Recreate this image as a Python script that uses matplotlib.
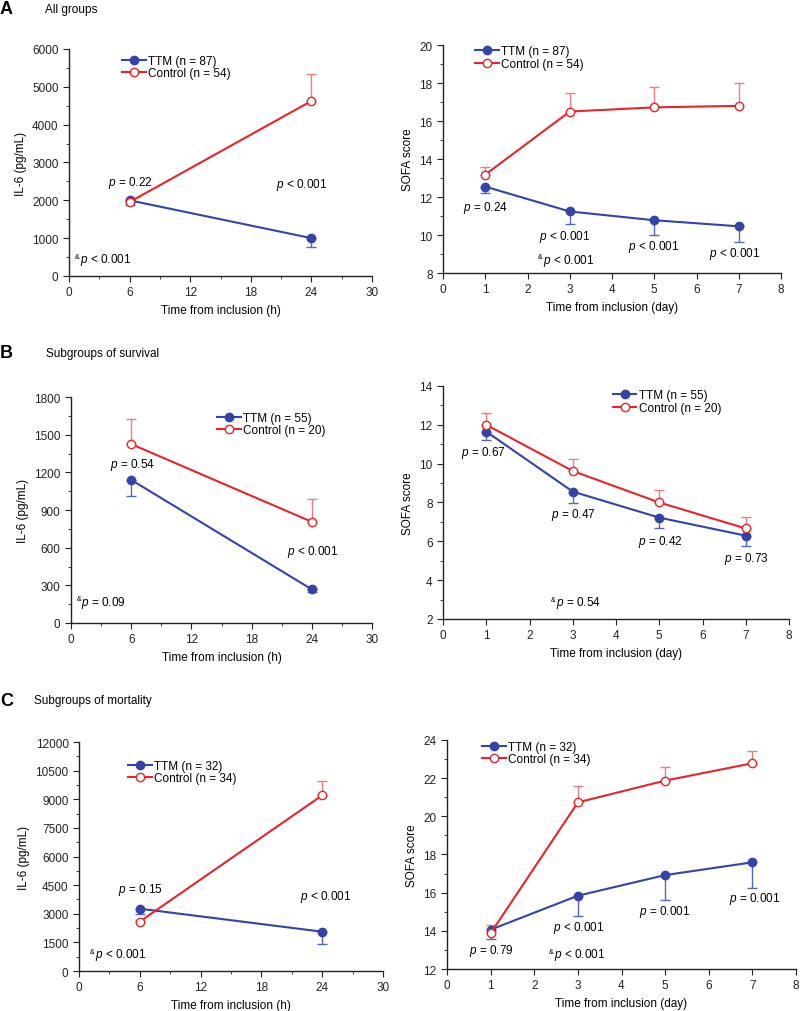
import matplotlib
matplotlib.use("Agg")
import matplotlib.pyplot as plt
from matplotlib.ticker import MultipleLocator

plt.rcParams['font.family'] = ['Liberation Sans', 'DejaVu Sans']
plt.rcParams['mathtext.fontset'] = 'custom'
plt.rcParams['mathtext.rm'] = 'Liberation Sans'
plt.rcParams['mathtext.it'] = 'Liberation Sans:italic'

# ---------------- data ----------------
hours = [6, 24]
days = [1, 3, 5, 7]

# Panel A - all groups
a_il6_ttm = [2000, 1000]
a_il6_ttm_err = [120, 245]
a_il6_ctrl = [1955, 4625]
a_il6_ctrl_err = [60, 715]
a_sofa_ttm = [12.55, 11.24, 10.78, 10.46]
a_sofa_ttm_err = [0.35, 0.67, 0.78, 0.85]
a_sofa_ctrl = [13.18, 16.5, 16.72, 16.8]
a_sofa_ctrl_err = [0.38, 0.95, 1.05, 1.18]

# Panel B - survival subgroups
b_il6_ttm = [1140, 268]
b_il6_ttm_err = [132, 20]
b_il6_ctrl = [1425, 806]
b_il6_ctrl_err = [202, 178]
b_sofa_ttm = [11.65, 8.56, 7.22, 6.29]
b_sofa_ttm_err = [0.43, 0.58, 0.55, 0.52]
b_sofa_ctrl = [12.0, 9.62, 8.0, 6.66]
b_sofa_ctrl_err = [0.59, 0.64, 0.64, 0.61]

# Panel C - mortality subgroups
c_il6_ttm = [3266, 2060]
c_il6_ttm_err = [300, 630]
c_il6_ctrl = [2590, 9205]
c_il6_ctrl_err = [60, 750]
c_sofa_ttm = [14.06, 15.84, 16.92, 17.59]
c_sofa_ttm_err = [0.5, 1.08, 1.29, 1.36]
c_sofa_ctrl = [13.87, 20.73, 21.87, 22.78]
c_sofa_ctrl_err = [0.45, 0.84, 0.7, 0.63]

n_labels = {
    'A': ("TTM (n = 87)", "Control (n = 54)"),
    'B': ("TTM (n = 55)", "Control (n = 20)"),
    'C': ("TTM (n = 32)", "Control (n = 34)"),
}
titles = {'A': "All groups", 'B': "Subgroups of survival", 'C': "Subgroups of mortality"}

BLUE = '#3343a8'
BLUE_ERR = '#5566bb'
RED = '#e5252b'
RED_ERR = '#ec7c82'

FS = 8.5

fig = plt.figure(figsize=(8, 10.12), dpi=100)


def draw(ax, x, ttm, ttm_err, ctrl, ctrl_err, labels):
    zeros = [0] * len(x)
    ax.errorbar(x, ttm, yerr=[ttm_err, zeros], fmt='none', ecolor=BLUE_ERR,
                elinewidth=1.0, capsize=3.5, capthick=1.0, zorder=2)
    ax.errorbar(x, ctrl, yerr=[zeros, ctrl_err], fmt='none', ecolor=RED_ERR,
                elinewidth=1.0, capsize=3.5, capthick=1.0, zorder=2)
    ax.plot(x, ttm, '-o', color=BLUE, lw=1.5, ms=6, mfc=BLUE, mec=BLUE, zorder=4,
            label=labels[0])
    ax.plot(x, ctrl, '-o', color=RED, lw=1.5, ms=6, mfc='white', mec=RED, mew=1.0,
            zorder=5, label=labels[1])


def style(ax, xlim, xmaj, xmin, ylim, ymaj, ymin, xlabel, ylabel):
    ax.set_xlim(*xlim)
    ax.set_ylim(*ylim)
    ax.xaxis.set_major_locator(MultipleLocator(xmaj))
    if xmin:
        ax.xaxis.set_minor_locator(MultipleLocator(xmin))
    ax.yaxis.set_major_locator(MultipleLocator(ymaj))
    ax.yaxis.set_minor_locator(MultipleLocator(ymin))
    for s in ('top', 'right'):
        ax.spines[s].set_visible(False)
    for s in ('left', 'bottom'):
        ax.spines[s].set_linewidth(1.0)
        ax.spines[s].set_color('#222222')
    ax.tick_params(which='major', length=4, width=0.8, labelsize=FS, colors='#222222')
    ax.tick_params(which='minor', length=2, width=0.6, colors='#222222')
    ax.set_xlabel(xlabel, fontsize=FS)
    ax.set_ylabel(ylabel, fontsize=FS)


def legend(ax, x, y):
    ax.legend(loc='upper left', bbox_to_anchor=(x, y), frameon=False, fontsize=FS,
              handlelength=2.0, handletextpad=0.2, labelspacing=0.05,
              borderpad=0, borderaxespad=0)


def ptext(ax, x, y, s):
    ax.text(x, y, s, fontsize=FS, ha='left', va='center')


def amp_text(ax, x, y, s):
    ax.annotate('&', (x, y), xytext=(0, 2), textcoords='offset points',
                fontsize=5, ha='left', va='center')
    ax.annotate(s, (x, y), xytext=(3.5, 0), textcoords='offset points',
                fontsize=FS, ha='left', va='center')


IL6_X = "Time from inclusion (h)"
SOFA_X = "Time from inclusion (day)"
IL6_Y = "IL-6 (pg/mL)"
SOFA_Y = "SOFA score"

# ---------- A ----------
ax = fig.add_axes([0.08625, 0.7263, 0.37875, 0.2243])
draw(ax, hours, a_il6_ttm, a_il6_ttm_err, a_il6_ctrl, a_il6_ctrl_err, n_labels['A'])
style(ax, (0, 30), 6, 3, (0, 6000), 1000, 500, IL6_X, IL6_Y)
legend(ax, 0.175, 0.975)
ptext(ax, 3.9, 2485, r"$p$ = 0.22")
ptext(ax, 20.5, 2430, r"$p$ < 0.001")
amp_text(ax, 0.6, 450, r"$p$ < 0.001")

ax = fig.add_axes([0.55375, 0.7292, 0.4225, 0.2253])
draw(ax, days, a_sofa_ttm, a_sofa_ttm_err, a_sofa_ctrl, a_sofa_ctrl_err, n_labels['A'])
style(ax, (0, 8), 1, None, (8, 20), 2, 1, SOFA_X, SOFA_Y)
legend(ax, 0.095, 1.0)
ptext(ax, 0.47, 11.45, r"$p$ = 0.24")
ptext(ax, 2.27, 9.93, r"$p$ < 0.001")
amp_text(ax, 2.25, 8.7, r"$p$ < 0.001")
ptext(ax, 4.37, 9.4, r"$p$ < 0.001")
ptext(ax, 6.3, 9.05, r"$p$ < 0.001")

# ---------- B ----------
ax = fig.add_axes([0.08875, 0.3834, 0.37625, 0.2233])
draw(ax, hours, b_il6_ttm, b_il6_ttm_err, b_il6_ctrl, b_il6_ctrl_err, n_labels['B'])
style(ax, (0, 30), 6, 3, (0, 1800), 300, 150, IL6_X, IL6_Y)
legend(ax, 0.485, 0.935)
ptext(ax, 3.85, 1270, r"$p$ = 0.54")
ptext(ax, 21.5, 570, r"$p$ < 0.001")
amp_text(ax, 0.53, 170, r"$p$ = 0.09")

ax = fig.add_axes([0.55375, 0.3874, 0.4325, 0.2302])
draw(ax, days, b_sofa_ttm, b_sofa_ttm_err, b_sofa_ctrl, b_sofa_ctrl_err, n_labels['B'])
style(ax, (0, 8), 1, None, (2, 14), 2, 1, SOFA_X, SOFA_Y)
legend(ax, 0.491, 0.985)
ptext(ax, 0.41, 10.6, r"$p$ = 0.67")
ptext(ax, 2.49, 7.4, r"$p$ = 0.47")
ptext(ax, 4.5, 6.0, r"$p$ = 0.42")
ptext(ax, 6.5, 5.14, r"$p$ = 0.73")
amp_text(ax, 2.49, 2.85, r"$p$ = 0.54")

# ---------- C ----------
ax = fig.add_axes([0.09875, 0.0395, 0.38, 0.2263])
draw(ax, hours, c_il6_ttm, c_il6_ttm_err, c_il6_ctrl, c_il6_ctrl_err, n_labels['C'])
style(ax, (0, 30), 6, 3, (0, 12000), 1500, 750, IL6_X, IL6_Y)
legend(ax, 0.161, 0.922)
ptext(ax, 3.85, 4280, r"$p$ = 0.15")
ptext(ax, 21.8, 3930, r"$p$ < 0.001")
amp_text(ax, 1.1, 873, r"$p$ < 0.001")

ax = fig.add_axes([0.55875, 0.0415, 0.43625, 0.2263])
draw(ax, days, c_sofa_ttm, c_sofa_ttm_err, c_sofa_ctrl, c_sofa_ctrl_err, n_labels['C'])
style(ax, (0, 8), 1, None, (12, 24), 2, 1, SOFA_X, SOFA_Y)
legend(ax, 0.1, 0.997)
ptext(ax, 0.5, 13.0, r"$p$ = 0.79")
ptext(ax, 2.43, 14.22, r"$p$ < 0.001")
amp_text(ax, 2.34, 12.77, r"$p$ < 0.001")
ptext(ax, 4.39, 15.06, r"$p$ = 0.001")
ptext(ax, 6.47, 15.7, r"$p$ = 0.001")

# panel letters and titles
for letter, ypx, xt in (('A', 10, 45), ('B', 354, 46), ('C', 701, 34)):
    fig.text(0.0, 1 - ypx / 1012, letter, fontsize=13, fontweight='bold', ha='left', va='center')
    fig.text(xt / 800, 1 - ypx / 1012, titles[letter], fontsize=8.5, ha='left', va='center')

fig.savefig("out.png", dpi=100)
